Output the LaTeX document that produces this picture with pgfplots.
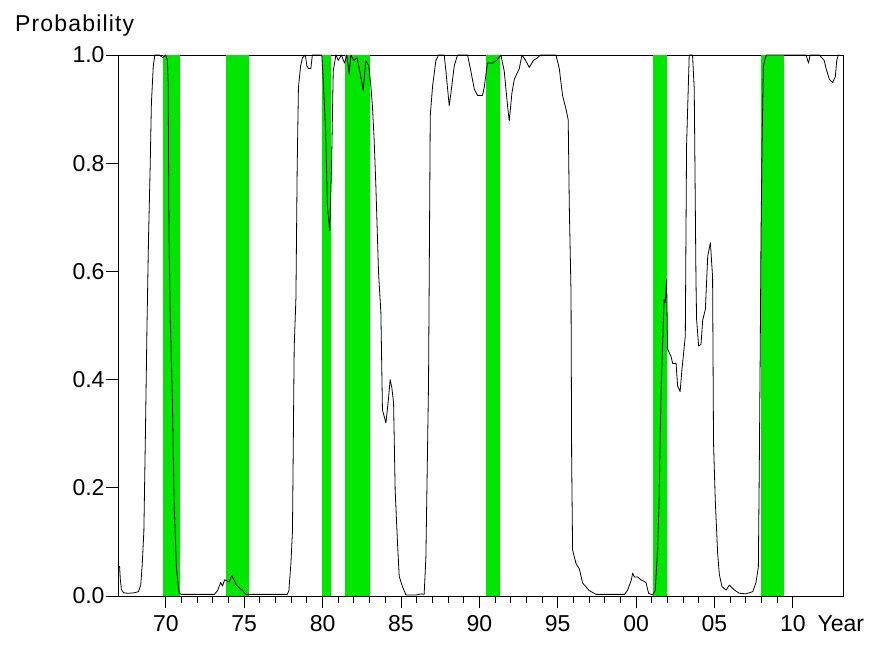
\documentclass[border=0pt]{standalone}
\usepackage{fontspec}
\setmainfont{Liberation Sans}
\newfontfamily\widefont[LetterSpace=5]{Liberation Sans}
\usepackage{pgfplots}
\pgfplotsset{compat=1.18}
\definecolor{recgreen}{RGB}{0,230,0}
\pgfplotstableread{
x y
1967.00 0.055
1967.05 0.055
1967.10 0.03
1967.17 0.012
1967.30 0.006
1967.60 0.005
1968.00 0.006
1968.25 0.008
1968.40 0.02
1968.50 0.06
1968.60 0.12
1968.70 0.30
1968.80 0.50
1968.90 0.665
1969.00 0.79
1969.08 0.91
1969.20 0.98
1969.30 1.0
1969.60 1.0
1969.80 0.995
1970.00 1.0
1970.10 0.99
1970.15 0.95
1970.20 0.68
1970.28 0.52
1970.42 0.36
1970.53 0.17
1970.68 0.05
1970.85 0.005
1971.00 0.003
1973.10 0.003
1973.30 0.01
1973.50 0.025
1973.62 0.018
1973.75 0.03
1973.90 0.028
1974.05 0.026
1974.20 0.038
1974.35 0.03
1974.50 0.02
1974.70 0.015
1974.90 0.01
1975.10 0.003
1977.75 0.003
1977.85 0.01
1977.98 0.06
1978.08 0.12
1978.19 0.46
1978.30 0.55
1978.38 0.79
1978.46 0.94
1978.60 0.98
1978.72 0.995
1978.90 1.0
1979.00 0.98
1979.10 0.975
1979.25 0.975
1979.35 1.0
1979.95 1.0
1980.05 0.95
1980.20 0.857
1980.31 0.72
1980.46 0.675
1980.57 0.79
1980.68 0.97
1980.85 1.0
1981.00 0.99
1981.20 1.0
1981.40 0.985
1981.55 1.0
1981.70 0.965
1981.80 1.0
1982.00 0.99
1982.20 0.995
1982.44 0.96
1982.59 0.935
1982.76 0.99
1982.95 0.98
1983.08 0.943
1983.18 0.906
1983.29 0.844
1983.40 0.758
1983.57 0.598
1983.72 0.524
1983.82 0.344
1984.04 0.32
1984.20 0.363
1984.31 0.40
1984.42 0.385
1984.53 0.357
1984.63 0.196
1984.78 0.098
1984.89 0.036
1985.10 0.017
1985.32 0.002
1986.00 0.002
1986.30 0.004
1986.48 0.003
1986.59 0.07
1986.76 0.394
1986.87 0.888
1987.02 0.943
1987.23 0.99
1987.40 1.0
1987.76 1.0
1987.87 0.97
1988.08 0.906
1988.19 0.93
1988.40 0.98
1988.61 1.0
1989.25 1.0
1989.46 0.97
1989.68 0.937
1989.89 0.925
1990.20 0.925
1990.31 0.94
1990.52 0.985
1990.84 0.985
1991.10 0.99
1991.38 1.0
1991.59 0.97
1991.80 0.906
1991.91 0.878
1992.08 0.93
1992.23 0.955
1992.55 0.975
1992.72 1.0
1992.95 0.99
1993.19 0.977
1993.45 0.99
1993.72 0.995
1993.90 1.0
1994.89 1.0
1995.10 0.975
1995.31 0.925
1995.53 0.90
1995.67 0.88
1995.74 0.72
1995.85 0.56
1995.89 0.252
1995.95 0.085
1996.17 0.06
1996.38 0.05
1996.59 0.024
1997.01 0.01
1997.44 0.003
1999.26 0.003
1999.46 0.011
1999.70 0.03
1999.78 0.042
1999.90 0.035
2000.10 0.035
2000.31 0.03
2000.63 0.025
2000.80 0.005
2001.05 0.002
2001.22 0.01
2001.37 0.085
2001.47 0.178
2001.58 0.363
2001.68 0.456
2001.79 0.548
2001.86 0.542
2001.95 0.585
2002.01 0.456
2002.23 0.443
2002.33 0.43
2002.55 0.43
2002.65 0.388
2002.81 0.378
2002.93 0.42
2003.14 0.48
2003.22 0.832
2003.39 1.0
2003.60 1.0
2003.71 0.937
2003.82 0.585
2003.86 0.511
2003.99 0.462
2004.14 0.465
2004.25 0.51
2004.42 0.53
2004.57 0.628
2004.74 0.653
2004.88 0.59
2004.94 0.283
2005.05 0.178
2005.20 0.08
2005.31 0.04
2005.48 0.017
2005.74 0.011
2005.95 0.02
2006.27 0.011
2006.59 0.005
2007.00 0.004
2007.44 0.008
2007.65 0.025
2007.80 0.054
2007.86 0.24
2007.92 0.456
2007.97 0.672
2008.04 0.844
2008.12 0.98
2008.30 1.0
2010.84 1.0
2011.00 0.985
2011.10 1.0
2011.69 1.0
2012.00 0.99
2012.12 0.975
2012.33 0.955
2012.54 0.949
2012.71 0.96
2012.80 0.99
2012.90 1.0
2012.97 1.0
}\probdata
\begin{document}
\begin{tikzpicture}
\begin{axis}[
  at={(0,0)}, anchor=south west,
  scale only axis, width=725pt, height=541pt,
  xmin=1966.95, xmax=2013.2, ymin=0, ymax=1,
  axis line style={line width=0.9pt},
  tick align=outside, xtick pos=left, ytick pos=left,
  xtick={1970,1975,1980,1985,1990,1995,2000,2005,2010},
  xticklabels={70,75,80,85,90,95,00,05,10},
  minor x tick num=4,
  ytick={0,0.2,0.4,0.6,0.8,1},
  yticklabel style={xshift=2pt, /pgf/number format/fixed, /pgf/number format/fixed zerofill, /pgf/number format/precision=1},
  /pgf/number format/assume math mode=true,
  tick style={black, line width=0.9pt},
  major tick length=12pt, minor tick length=7pt,
  ticklabel style={font=\fontsize{23}{27}\selectfont},
  xticklabel style={yshift=-4pt},
  xlabel={Year},
  xlabel style={font=\fontsize{23}{27}\selectfont, at={(rel axis cs:0.960,0)}, anchor=north west, yshift=-16pt},
  ylabel={Probability},
  ylabel style={font=\widefont\fontsize{23}{27}\selectfont, rotate=-90, inner sep=0pt, at={(rel axis cs:0,1)}, anchor=base west, xshift=-103pt, yshift=23pt},
  clip=false,
]
\addplot[fill=recgreen, draw=none] coordinates {(1969.85,1) (1970.92,1)} \closedcycle;
\addplot[fill=recgreen, draw=none] coordinates {(1973.83,1) (1975.28,1)} \closedcycle;
\addplot[fill=recgreen, draw=none] coordinates {(1979.97,1) (1980.55,1)} \closedcycle;
\addplot[fill=recgreen, draw=none] coordinates {(1981.45,1) (1983.00,1)} \closedcycle;
\addplot[fill=recgreen, draw=none] coordinates {(1990.45,1) (1991.32,1)} \closedcycle;
\addplot[fill=recgreen, draw=none] coordinates {(2001.05,1) (2001.95,1)} \closedcycle;
\addplot[fill=recgreen, draw=none] coordinates {(2008.00,1) (2009.45,1)} \closedcycle;
\addplot[black, line width=0.8pt, line join=round] table[x=x, y=y] {\probdata};
\end{axis}
\path[use as bounding box] (-118pt,-52pt) rectangle (762pt,596pt);
\end{tikzpicture}
\end{document}
